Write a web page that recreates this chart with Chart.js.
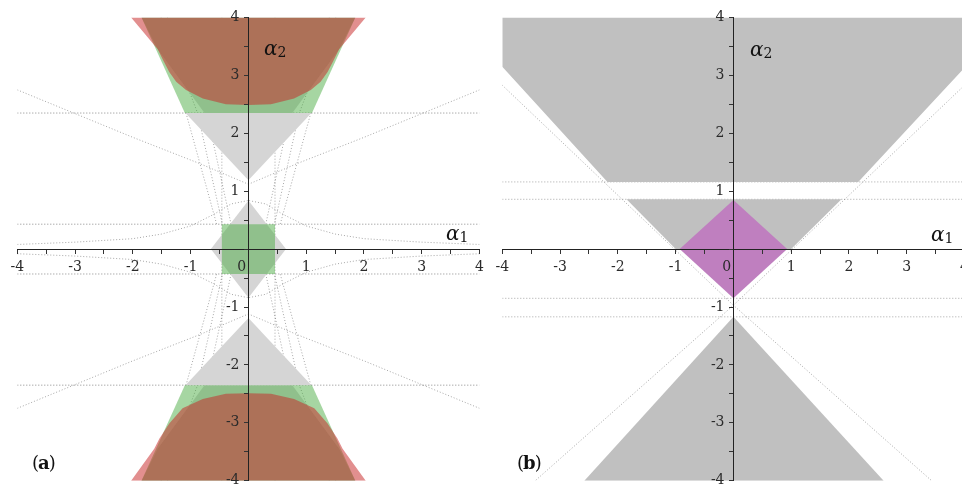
<!DOCTYPE html>
<html>
<head>
<meta charset="utf-8">
<script src="https://cdn.jsdelivr.net/npm/chart.js@4.4.1/dist/chart.umd.min.js"></script>
<style>
    html, body { margin: 0; padding: 0; background: #fff; }
    body { width: 962px; height: 484px; overflow: hidden; position: relative; }
    canvas { position: absolute; top: 0; }
    .m { position: absolute; font-family: 'DejaVu Serif', serif; color: #111; line-height: 1; white-space: nowrap; }
    .m i { font-size: 20px; }
    .m span { font-size: 14px; position: relative; top: 2px; }
    .tag { position: absolute; font-family: 'DejaVu Serif', serif; font-size: 18px; color: #111; line-height: 1; letter-spacing: -1px; }
</style>
</head>
<body>
<canvas id="panelA" width="490" height="500" style="left:0"></canvas>
<canvas id="panelB" width="490" height="500" style="left:485px"></canvas>
<div class="m" style="left:264px;top:38px"><i>α</i><span>2</span></div>
<div class="m" style="left:446px;top:223px"><i>α</i><span>1</span></div>
<div class="m" style="left:750px;top:39px"><i>α</i><span>2</span></div>
<div class="m" style="left:931px;top:224px"><i>α</i><span>1</span></div>
<div class="tag" style="left:32px;top:454px">(<b>a</b>)</div>
<div class="tag" style="left:517px;top:454px">(<b>b</b>)</div>
<script>
// ---- panel (a) regions, [alpha1, alpha2] pairs ----
var redTop = [[-2.03,4],[-1.57,3.45],[-1.48,3.27],[-1.37,3.06],[-1.25,2.89],[-1.08,2.75],[-0.79,2.6],[-0.39,2.5],[0,2.49],
              [0.39,2.5],[0.79,2.6],[1.08,2.75],[1.25,2.89],[1.37,3.06],[1.48,3.27],[1.57,3.45],[2.03,4]];
var redBottom = [[-2.03,-4],[-1.63,-3.45],[-1.54,-3.27],[-1.37,-3.01],[-1.14,-2.75],[-0.79,-2.59],[-0.39,-2.5],[0,-2.49],
                 [0.39,-2.5],[0.79,-2.59],[1.14,-2.75],[1.37,-3.01],[1.54,-3.27],[1.63,-3.45],[2.03,-4]];
var greenTop = [[-1.1,2.35],[1.1,2.35],[1.85,4],[-1.85,4]];
var greenBottom = [[-1.1,-2.35],[1.1,-2.35],[1.85,-4],[-1.85,-4]];
var greenSquare = [[-0.46,0.43],[0.46,0.43],[0.46,-0.43],[-0.46,-0.43]];
var grayTopCone = [[0,1.19],[1.09,2.35],[-1.09,2.35]];
var grayTopCap = [[-0.76,2.35],[0.76,2.35],[1.57,3.45],[1.85,4],[-1.85,4],[-1.57,3.45]];
var grayBottomCone = [[0,-1.19],[1.09,-2.35],[-1.09,-2.35]];
var grayBottomCap = [[-0.76,-2.35],[0.76,-2.35],[1.57,-3.45],[1.85,-4],[-1.85,-4],[-1.57,-3.45]];
var grayDiamond = [[0,0.84],[0.65,0],[0,-0.84],[-0.65,0]];

// panel (a) dotted guide curves
var levelsA = [2.35, 0.43, -0.43, -2.35];
var columnsA = [-0.46, 0.46];
var fanA = [
    [[-4,2.75],[-2,1.93],[-0.85,1.48],[0,1.12]],
    [[4,2.75],[2,1.93],[0.85,1.48],[0,1.12]],
    [[-4,-2.75],[-2,-1.93],[-0.85,-1.48],[0,-1.12]],
    [[4,-2.75],[2,-1.93],[0.85,-1.48],[0,-1.12]]
];
var bellA = [
    [[-4,0.08],[-3,0.12],[-2,0.18],[-1.5,0.26],[-1,0.4],[-0.6,0.6],[-0.3,0.78],[0,0.84]],
    [[4,0.08],[3,0.12],[2,0.18],[1.5,0.26],[1,0.4],[0.6,0.6],[0.3,0.78],[0,0.84]],
    [[-4,-0.08],[-3,-0.12],[-2,-0.18],[-1.5,-0.26],[-1,-0.4],[-0.6,-0.6],[-0.3,-0.78],[0,-0.84]],
    [[4,-0.08],[3,-0.12],[2,-0.18],[1.5,-0.26],[1,-0.4],[0.6,-0.6],[0.3,-0.78],[0,-0.84]]
];
var steepA = [
    [[-1.51,4],[-0.88,2.35],[-0.45,0.43]], [[-1.4,4],[-0.72,2.35],[-0.3,0.43]], [[-1.08,2.35],[-0.55,0.43]],
    [[1.51,4],[0.88,2.35],[0.45,0.43]], [[1.4,4],[0.72,2.35],[0.3,0.43]], [[1.08,2.35],[0.55,0.43]],
    [[-1.51,-4],[-0.88,-2.35],[-0.45,-0.43]], [[-1.4,-4],[-0.72,-2.35],[-0.3,-0.43]], [[-1.08,-2.35],[-0.55,-0.43]],
    [[1.51,-4],[0.88,-2.35],[0.45,-0.43]], [[1.4,-4],[0.72,-2.35],[0.3,-0.43]], [[1.08,-2.35],[0.55,-0.43]]
];

// ---- panel (b) ----
var grayUpperB = [[-4,4],[4,4],[4,3.13],[2.16,1.16],[-2.18,1.16],[-4,3.15]];
var grayBandB = [[-1.85,0.86],[1.87,0.86],[1.0,0],[-1.0,0]];
var purpleB = [[0,0.85],[0.93,0],[0,-0.85],[-0.93,0]];
var grayLowerB = [[0,-1.17],[2.6,-4],[-2.58,-4]];
var levelsB = [1.16, 0.86, -0.85, -1.17];
var crossB = [
    [[-4,2.83],[0,-0.97],[3.43,-4]],
    [[4,2.83],[0,-0.97],[-3.43,-4]]
];

var tickRange = [-4, 4];

Chart.defaults.font.family = "'DejaVu Serif', serif";
Chart.defaults.font.size = 14;
Chart.defaults.color = '#333';

var toXY = function (pts) {
    return pts.map(function (p) { return {x: p[0], y: p[1]}; });
};

var poly = function (pts, color) {
    return {
        data: toXY(pts),
        showLine: true,
        fill: 'shape',
        backgroundColor: color,
        borderColor: 'rgba(0,0,0,0)',
        borderWidth: 0,
        pointRadius: 0
    };
};

var dots = function (pts, color) {
    return {
        data: toXY(pts),
        showLine: true,
        fill: false,
        borderColor: color,
        borderWidth: 1,
        borderDash: [1, 2],
        pointRadius: 0
    };
};

var axisOptions = function (which) {
    return {
        type: 'linear',
        min: tickRange[0],
        max: tickRange[1],
        position: which === 'x' ? {y: 0} : {x: 0},
        // z > 0 on every part: axes sit on top of the shaded regions, like the original
        ticks: {
            z: 1,
            stepSize: 0.5,
            autoSkip: false,
            maxRotation: 0,
            padding: 6,
            color: '#2a2a2a',
            callback: function (v) {
                if (!Number.isInteger(v)) return '';
                if (which === 'x') return v === 0 ? '0   ' : String(v);
                // centre y-axis labels are right-aligned on the axis itself, pad them off it
                return v === 0 ? '' : String(v) + '  ';
            }
        },
        grid: { z: 1, drawOnChartArea: false, drawTicks: true, tickLength: 4, color: '#333' },
        border: { z: 1, display: true, color: '#222', width: 1 }
    };
};

var buildChart = function (id, datasets) {
    return new Chart(document.getElementById(id), {
        type: 'scatter',
        data: { datasets: datasets },
        options: {
            responsive: false,
            animation: false,
            devicePixelRatio: 1,
            layout: { padding: { left: 17.3, top: 17.5, right: 9, bottom: 19.3 } },
            plugins: { legend: { display: false }, tooltip: { enabled: false } },
            events: [],
            scales: { x: axisOptions('x'), y: axisOptions('y') }
        }
    });
};

// panel (a): first dataset ends up on top
var red = 'rgba(200,40,40,0.52)';
var green = 'rgba(70,170,60,0.48)';
var grayA = '#d5d5d5';
var dotA = 'rgba(60,60,60,0.45)';

var setA = [
    poly(redTop, red), poly(redBottom, red),
    poly(greenTop, green), poly(greenBottom, green), poly(greenSquare, green),
    poly(grayTopCone, grayA), poly(grayTopCap, grayA),
    poly(grayBottomCone, grayA), poly(grayBottomCap, grayA), poly(grayDiamond, grayA)
];
levelsA.forEach(function (y) { setA.push(dots([[-4, y], [4, y]], 'rgba(60,60,60,0.6)')); });
columnsA.forEach(function (x) { setA.push(dots([[x, -4], [x, 4]], dotA)); });
fanA.concat(bellA).concat(steepA).forEach(function (c) { setA.push(dots(c, dotA)); });
buildChart('panelA', setA);

// panel (b)
var grayB = '#c0c0c0';
var setB = [
    poly(purpleB, '#bf7fbf'),
    poly(grayUpperB, grayB), poly(grayBandB, grayB), poly(grayLowerB, grayB)
];
levelsB.forEach(function (y) { setB.push(dots([[-4, y], [4, y]], 'rgba(60,60,60,0.45)')); });
crossB.forEach(function (c) { setB.push(dots(c, 'rgba(60,60,60,0.45)')); });
buildChart('panelB', setB);
</script>
</body>
</html>
